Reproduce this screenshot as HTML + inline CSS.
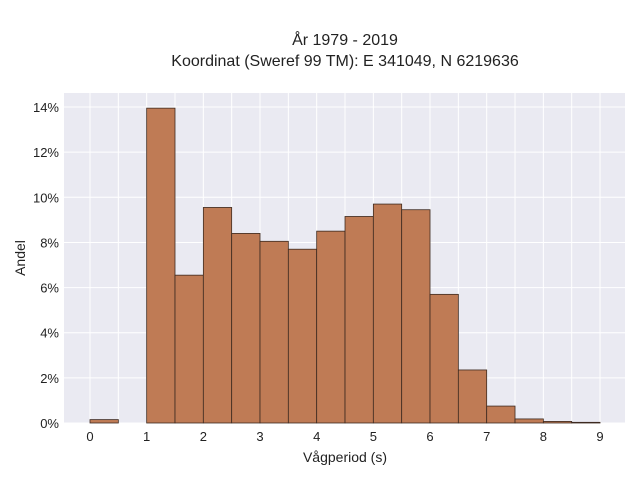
<!DOCTYPE html>
<html><head><meta charset="utf-8"><style>
body{margin:0;background:#fff;font-family:"Liberation Sans",sans-serif}
</style></head><body>
<svg width="640" height="480" xmlns="http://www.w3.org/2000/svg">
<rect width="640" height="480" fill="#fff"/>
<text x="345" y="45" text-anchor="middle" font-size="16" fill="#222">År 1979 - 2019</text>
<text x="345" y="66" text-anchor="middle" font-size="16" fill="#222">Koordinat (Sweref 99 TM): E 341049, N 6219636</text>
<rect x="64" y="93" width="561" height="330" fill="#eaeaf2"/>
<g id="grid"></g><g id="bars"></g><g id="ticks"></g>
<text x="345" y="462" text-anchor="middle" font-size="14" fill="#222">Vågperiod (s)</text>
<text x="0" y="0" transform="translate(25,258) rotate(-90)" text-anchor="middle" font-size="14" fill="#222">Andel</text>
</svg>
<script>
const binStarts=[0,1,1.5,2,2.5,3,3.5,4,4.5,5,5.5,6,6.5,7,7.5,8,8.5];
const shares=[0.15,13.95,6.55,9.55,8.4,8.05,7.7,8.5,9.15,9.7,9.45,5.7,2.35,0.75,0.18,0.07,0.03];
const binWidth=0.5;
const xTicks=[0,1,2,3,4,5,6,7,8,9];
const yTicks=[0,2,4,6,8,10,12,14];
const NS="http://www.w3.org/2000/svg";
const x=v=>90+v*56.67, y=v=>423-v*22.57;
const g=document.getElementById('grid'),b=document.getElementById('bars'),t=document.getElementById('ticks');
function mk(tag,at,p){const e=document.createElementNS(NS,tag);for(const k in at)e.setAttribute(k,at[k]);p.appendChild(e);return e;}
for(let v=-0.5;v<=9.5;v+=0.5){const px=x(v);if(px<64||px>625)continue;
const l=mk('line',{x1:px,x2:px,y1:93,y2:423,stroke:'#fff','stroke-width':1},g);

}
yTicks.forEach(v=>{const l=mk('line',{x1:64,x2:625,y1:y(v),y2:y(v),stroke:'#fff','stroke-width':1},g);


const tx=mk('text',{x:59,y:y(v)+5,'text-anchor':'end','font-size':13,fill:'#222'},t);tx.textContent=v+'%';

});
xTicks.forEach(v=>{const tx=mk('text',{x:x(v),y:441,'text-anchor':'middle','font-size':13,fill:'#222'},t);tx.textContent=v;

});
binStarts.forEach((s,i)=>{const r=mk('rect',{x:x(s),y:y(shares[i]),width:x(s+binWidth)-x(s),height:y(0)-y(shares[i]),fill:'#bf7b55',stroke:'#3d2a20','stroke-width':0.8},b);

});
</script>
</body></html>
